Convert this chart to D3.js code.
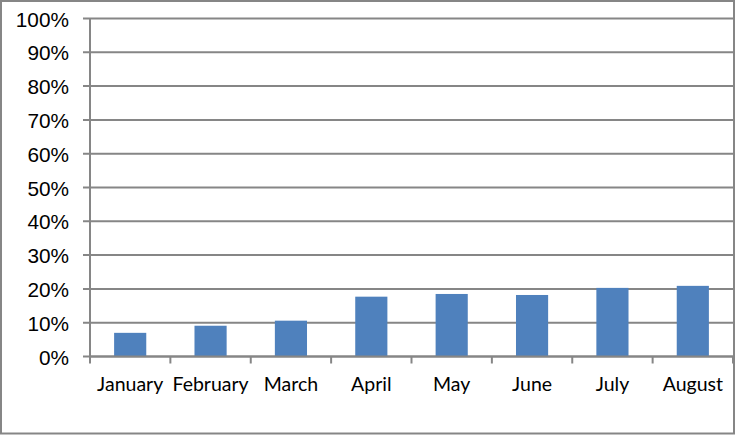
<!DOCTYPE html>
<html><head><meta charset="utf-8">
<script src="https://cdn.jsdelivr.net/npm/d3@7/dist/d3.min.js"></script>
<style>html,body{margin:0;padding:0;background:#fff;}svg{display:block;}</style>
</head><body>
<svg id="chart" width="736" height="435"></svg>
<script>
const categories = ["January","February","March","April","May","June","July","August"];
const values = [0.070, 0.091, 0.106, 0.177, 0.185, 0.182, 0.203, 0.209];
const yTicks = [0,0.1,0.2,0.3,0.4,0.5,0.6,0.7,0.8,0.9,1.0];

(function(){
const svg = d3.select("#chart");
const W = 736, H = 435;
const grid = "#868686";

svg.append("rect").attr("x",1).attr("y",1).attr("width",W-3).attr("height",H-2.5)
  .attr("fill","#fff").attr("stroke",grid).attr("stroke-width",2);

const pLeft = 90, pRight = 733, pTop = 18.5, pBottom = 356.5;
const x = d3.scaleBand().domain(categories).range([pLeft,pRight]).paddingInner(0.6).paddingOuter(0.3);
const xb = d3.scaleBand().domain(categories).range([pLeft,pRight]);
const y = d3.scaleLinear().domain([0,1]).range([pBottom,pTop]);

// gridlines
svg.append("g").selectAll("line").data(yTicks).join("line")
  .attr("x1",pLeft-7).attr("x2",pRight).attr("y1",d=>y(d)).attr("y2",d=>y(d))
  .attr("stroke",grid).attr("stroke-width",2);

// y axis line
svg.append("line").attr("x1",pLeft).attr("x2",pLeft).attr("y1",pTop).attr("y2",pBottom)
  .attr("stroke",grid).attr("stroke-width",2);

// y labels
svg.append("g").selectAll("text").data(yTicks).join("text")
  .attr("x",69).attr("y",d=>y(d)+8)
  .attr("text-anchor","end")
  .attr("font-family","Liberation Sans, Arial, sans-serif").attr("font-size",20.8)
  .attr("fill","#000")
  .text(d3.format(".0%"));

// bars
svg.append("g").selectAll("rect").data(categories).join("rect")
  .attr("x",d=>x(d)).attr("width",x.bandwidth())
  .attr("y",(d,i)=>y(values[i])).attr("height",(d,i)=>pBottom-y(values[i]))
  .attr("fill","#4F81BD");

// x axis line and ticks
svg.append("line").attr("x1",pLeft).attr("x2",pRight).attr("y1",pBottom).attr("y2",pBottom)
  .attr("stroke",grid).attr("stroke-width",2);
const tickPos = categories.map(c=>xb(c)).concat([pRight]);
svg.append("g").selectAll("line").data(tickPos).join("line")
  .attr("x1",d=>d).attr("x2",d=>d).attr("y1",pBottom).attr("y2",pBottom+7)
  .attr("stroke",grid).attr("stroke-width",2);

// x labels
svg.append("g").selectAll("text").data(categories).join("text")
  .attr("x",d=>xb(d)+xb.bandwidth()/2).attr("y",391)
  .attr("text-anchor","middle")
  .attr("font-family","Lato, Carlito, Calibri, sans-serif").attr("font-size",19.5)
  .attr("fill","#000")
  .text(d=>d);
})();
</script>
</body></html>
